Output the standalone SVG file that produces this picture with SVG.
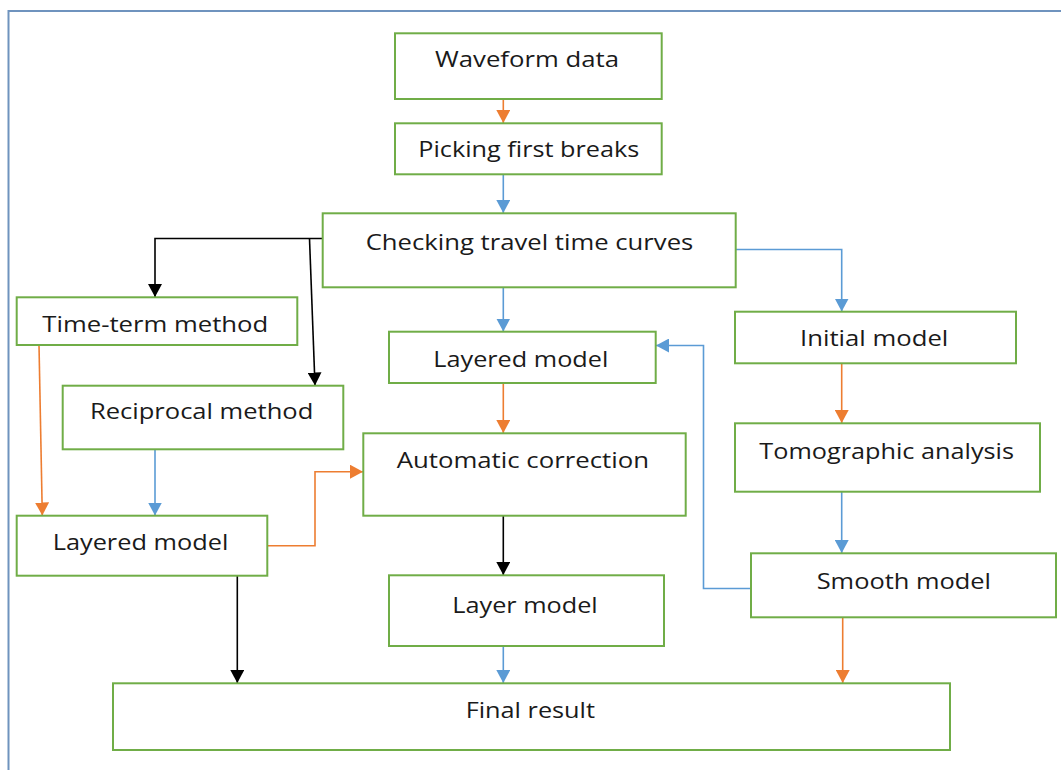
<svg xmlns="http://www.w3.org/2000/svg" width="1061" height="770" viewBox="0 0 1061 770">
<style>
.box{fill:#fff;stroke:#70AD47;stroke-width:2}
.t{font-family:"Open Sans","Noto Sans","Liberation Sans",sans-serif;font-size:22px;fill:#1a1a1a}
.c{fill:none;stroke-width:1.6}
.o{stroke:#ED7D31}
.b{stroke:#5B9BD5}
.k{stroke:#000}
</style>
<defs>
<marker id="ao" markerUnits="userSpaceOnUse" markerWidth="14" markerHeight="14" refX="13" refY="7" orient="auto"><path d="M0,0 L13,7 L0,14 z" fill="#ED7D31"/></marker>
<marker id="ab" markerUnits="userSpaceOnUse" markerWidth="14" markerHeight="14" refX="13" refY="7" orient="auto"><path d="M0,0 L13,7 L0,14 z" fill="#5B9BD5"/></marker>
<marker id="ak" markerUnits="userSpaceOnUse" markerWidth="14" markerHeight="14" refX="13" refY="7" orient="auto"><path d="M0,0 L13,7 L0,14 z" fill="#000"/></marker>
</defs>
<rect x="0" y="0" width="1061" height="770" fill="#fff"/>
<rect x="8.5" y="11" width="1070" height="780" fill="none" stroke="#6F93BE" stroke-width="2"/>

<g id="connectors">
<path class="c o" d="M503.3,99 V123" marker-end="url(#ao)"/>
<path class="c b" d="M503.3,174.5 V213" marker-end="url(#ab)"/>
<path class="c b" d="M503.3,287.5 V331.5" marker-end="url(#ab)"/>
<path class="c b" d="M736,249.5 H841.7 V311.5" marker-end="url(#ab)"/>
<path class="c o" d="M841.7,363.5 V423" marker-end="url(#ao)"/>
<path class="c b" d="M841.7,492 V553" marker-end="url(#ab)"/>
<path class="c b" d="M751,588.5 H703.5 V345.5 H656" marker-end="url(#ab)"/>
<path class="c o" d="M842.7,617.5 V683" marker-end="url(#ao)"/>
<path class="c k" d="M322,238.5 H155 V297" marker-end="url(#ak)"/>
<path class="c k" d="M309.5,238.5 L315,385.5" marker-end="url(#ak)"/>
<path class="c o" d="M39,345 L42.3,515.5" marker-end="url(#ao)"/>
<path class="c b" d="M155,449.5 V515.5" marker-end="url(#ab)"/>
<path class="c o" d="M267.5,545.7 H315 V471.7 H363" marker-end="url(#ao)"/>
<path class="c k" d="M237.3,576 V683" marker-end="url(#ak)"/>
<path class="c o" d="M503.3,383.5 V433" marker-end="url(#ao)"/>
<path class="c k" d="M503.3,516 V575" marker-end="url(#ak)"/>
<path class="c b" d="M503.3,646.5 V683" marker-end="url(#ab)"/>
</g>

<g id="waveform"><rect class="box" x="395" y="33.3" width="266.7" height="65.7"/><text class="t" x="435" y="66.7" textLength="184" lengthAdjust="spacingAndGlyphs">Waveform data</text></g>
<g id="picking"><rect class="box" x="395" y="123.3" width="266.7" height="51"/><text class="t" x="418.3" y="157.3" textLength="221" lengthAdjust="spacingAndGlyphs">Picking first breaks</text></g>
<g id="checking"><rect class="box" x="322.7" y="213.3" width="413" height="74"/><text class="t" x="365.7" y="250" textLength="327.6" lengthAdjust="spacingAndGlyphs">Checking travel time curves</text></g>
<g id="layered-center"><rect class="box" x="389" y="331.7" width="266.7" height="51.3"/><text class="t" x="433.3" y="366.7" textLength="175" lengthAdjust="spacingAndGlyphs">Layered model</text></g>
<g id="initial"><rect class="box" x="735" y="311.7" width="281" height="51.6"/><text class="t" x="800" y="346" textLength="148.3" lengthAdjust="spacingAndGlyphs">Initial model</text></g>
<g id="tomographic"><rect class="box" x="735" y="423.3" width="305" height="68.4"/><text class="t" x="759.3" y="459.3" textLength="254.7" lengthAdjust="spacingAndGlyphs">Tomographic analysis</text></g>
<g id="smooth"><rect class="box" x="751" y="553.3" width="305" height="64"/><text class="t" x="816.7" y="589.3" textLength="174.3" lengthAdjust="spacingAndGlyphs">Smooth model</text></g>
<g id="timeterm"><rect class="box" x="16.7" y="297.3" width="280.6" height="47.7"/><text class="t" x="42.3" y="331.7" textLength="226" lengthAdjust="spacingAndGlyphs">Time-term method</text></g>
<g id="reciprocal"><rect class="box" x="62.7" y="385.7" width="280.6" height="63.6"/><text class="t" x="90" y="419.3" textLength="223.3" lengthAdjust="spacingAndGlyphs">Reciprocal method</text></g>
<g id="layered-left"><rect class="box" x="16.7" y="515.7" width="250.6" height="60"/><text class="t" x="52.7" y="550" textLength="175.6" lengthAdjust="spacingAndGlyphs">Layered model</text></g>
<g id="automatic"><rect class="box" x="363.3" y="433.3" width="322.4" height="82.4"/><text class="t" x="396.7" y="468.3" textLength="252.3" lengthAdjust="spacingAndGlyphs">Automatic correction</text></g>
<g id="layer"><rect class="box" x="389" y="575.3" width="275" height="70.7"/><text class="t" x="452.3" y="612.7" textLength="145.4" lengthAdjust="spacingAndGlyphs">Layer model</text></g>
<g id="final"><rect class="box" x="113" y="683.3" width="837" height="66.7"/><text class="t" x="465.7" y="717.7" textLength="129.3" lengthAdjust="spacingAndGlyphs">Final result</text></g>
</svg>
